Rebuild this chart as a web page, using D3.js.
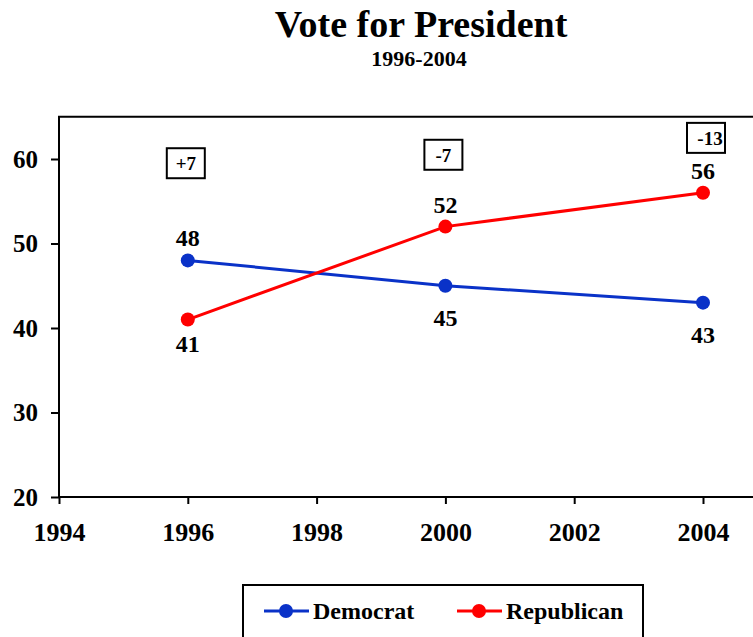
<!DOCTYPE html>
<html>
<head>
<meta charset="utf-8">
<script src="https://cdn.jsdelivr.net/npm/d3@7"></script>
<style>
  html, body { margin: 0; padding: 0; background: #fff; overflow: hidden; }
  text { font-family: "Liberation Serif", "Times New Roman", serif; font-weight: bold; }
</style>
</head>
<body>
<div id="chart"></div>
<script>
// -------- Data --------
const years = [1996, 2000, 2004];
const democrat = [48, 45, 43];
const republican = [41, 52, 56];
const gapLabels = ['+7', '-7', '-13'];
const gapLevels = [59.5, 60.5, 62.5];   // y value where each gap box sits
const xTicks = [1994, 1996, 1998, 2000, 2002, 2004];
const yTicks = [20, 30, 40, 50, 60];

// -------- Dimensions --------
const svgWidth = 753, svgHeight = 637;
const plotBottom = 497;

const svg = d3.select('#chart').append('svg')
  .attr('width', svgWidth)
  .attr('height', svgHeight);

// -------- Scales --------
const x = d3.scaleLinear().domain([1994, 2004]).range([59, 703]);
const y = d3.scaleLinear().domain([20, 60]).range([plotBottom, 159]);

// -------- Title --------
svg.append('text')
  .attr('x', 421).attr('y', 37)
  .attr('text-anchor', 'middle')
  .style('font-size', '38px')
  .text('Vote for President');
svg.append('text')
  .attr('x', 419).attr('y', 66)
  .attr('text-anchor', 'middle')
  .style('font-size', '22px')
  .text('1996-2004');

// -------- Plot frame (top/left) --------
svg.append('path')
  .attr('d', `M${x(1994)},${plotBottom}V${y(65)}H${svgWidth + 5}`)
  .attr('fill', 'none')
  .attr('stroke', '#000')
  .attr('stroke-width', 2);

// -------- Axes --------
const xAxis = svg.append('g')
  .attr('transform', `translate(0,${plotBottom})`)
  .call(d3.axisBottom(x).tickValues(xTicks).tickFormat(d3.format('d')).tickSize(7).tickSizeOuter(0));
xAxis.select('.domain').remove();
xAxis.append('line')
  .attr('x1', x(1994)).attr('x2', svgWidth + 5)
  .attr('stroke', '#000').attr('stroke-width', 2);
xAxis.selectAll('.tick line').attr('stroke-width', 2);
xAxis.selectAll('.tick text')
  .attr('y', 26)
  .attr('fill', '#000')
  .style('font-size', '26px');

const yAxis = svg.append('g')
  .attr('transform', `translate(${x(1994)},0)`)
  .call(d3.axisLeft(y).tickValues(yTicks).tickSize(8).tickSizeOuter(0));
yAxis.select('.domain').remove();
yAxis.selectAll('.tick line').attr('stroke-width', 2);
yAxis.selectAll('.tick text')
  .attr('x', -21)
  .attr('fill', '#000')
  .style('font-size', '25px');

// -------- Lines --------
const series = [
  { name: 'Democrat', values: democrat, color: '#0a32c8', above: [true, false, false], below: 40 },
  { name: 'Republican', values: republican, color: '#ff0000', above: [false, true, true], below: 32 }
];

const line = d3.line()
  .x((d, i) => x(years[i]))
  .y(d => y(d));

series.forEach(s => {
  svg.append('path')
    .datum(s.values)
    .attr('d', line)
    .attr('fill', 'none')
    .attr('stroke', s.color)
    .attr('stroke-width', 3);

  svg.selectAll(null)
    .data(s.values)
    .join('circle')
      .attr('cx', (d, i) => x(years[i]))
      .attr('cy', d => y(d))
      .attr('r', 7)
      .attr('fill', s.color);

  svg.selectAll(null)
    .data(s.values)
    .join('text')
      .attr('x', (d, i) => x(years[i]))
      .attr('y', (d, i) => y(d) + (s.above[i] ? -14 : s.below))
      .attr('text-anchor', 'middle')
      .style('font-size', '24px')
      .text(d => d);
});

// -------- Gap boxes --------
const boxShift = [-2, -2, 3];
const boxes = svg.selectAll('g.gap')
  .data(gapLabels)
  .join('g')
    .attr('class', 'gap')
    .attr('transform', (d, i) => `translate(${x(years[i]) + boxShift[i]},${y(gapLevels[i])})`);
boxes.append('rect')
  .attr('x', -19).attr('y', -15)
  .attr('width', 38).attr('height', 30)
  .attr('fill', '#fff')
  .attr('stroke', '#000')
  .attr('stroke-width', 2);
boxes.append('text')
  .attr('x', (d, i) => i === 2 ? 4 : 0)
  .attr('y', 7)
  .attr('text-anchor', 'middle')
  .style('font-size', '19px')
  .text(d => d);

// -------- Legend --------
const legend = svg.append('g').attr('transform', 'translate(243,585)');
legend.append('rect')
  .attr('width', 400).attr('height', 70)
  .attr('fill', '#fff')
  .attr('stroke', '#000')
  .attr('stroke-width', 2);

const legendX = [21, 214];
const item = legend.selectAll('g.item')
  .data(series)
  .join('g')
    .attr('class', 'item')
    .attr('transform', (d, i) => `translate(${legendX[i]},26)`);
item.append('line')
  .attr('x1', 0).attr('x2', 45)
  .attr('stroke', d => d.color)
  .attr('stroke-width', 3);
item.append('circle')
  .attr('cx', 22).attr('r', 7)
  .attr('fill', d => d.color);
item.append('text')
  .attr('x', 49).attr('y', 8)
  .style('font-size', '24px')
  .text(d => d.name);
</script>
</body>
</html>
